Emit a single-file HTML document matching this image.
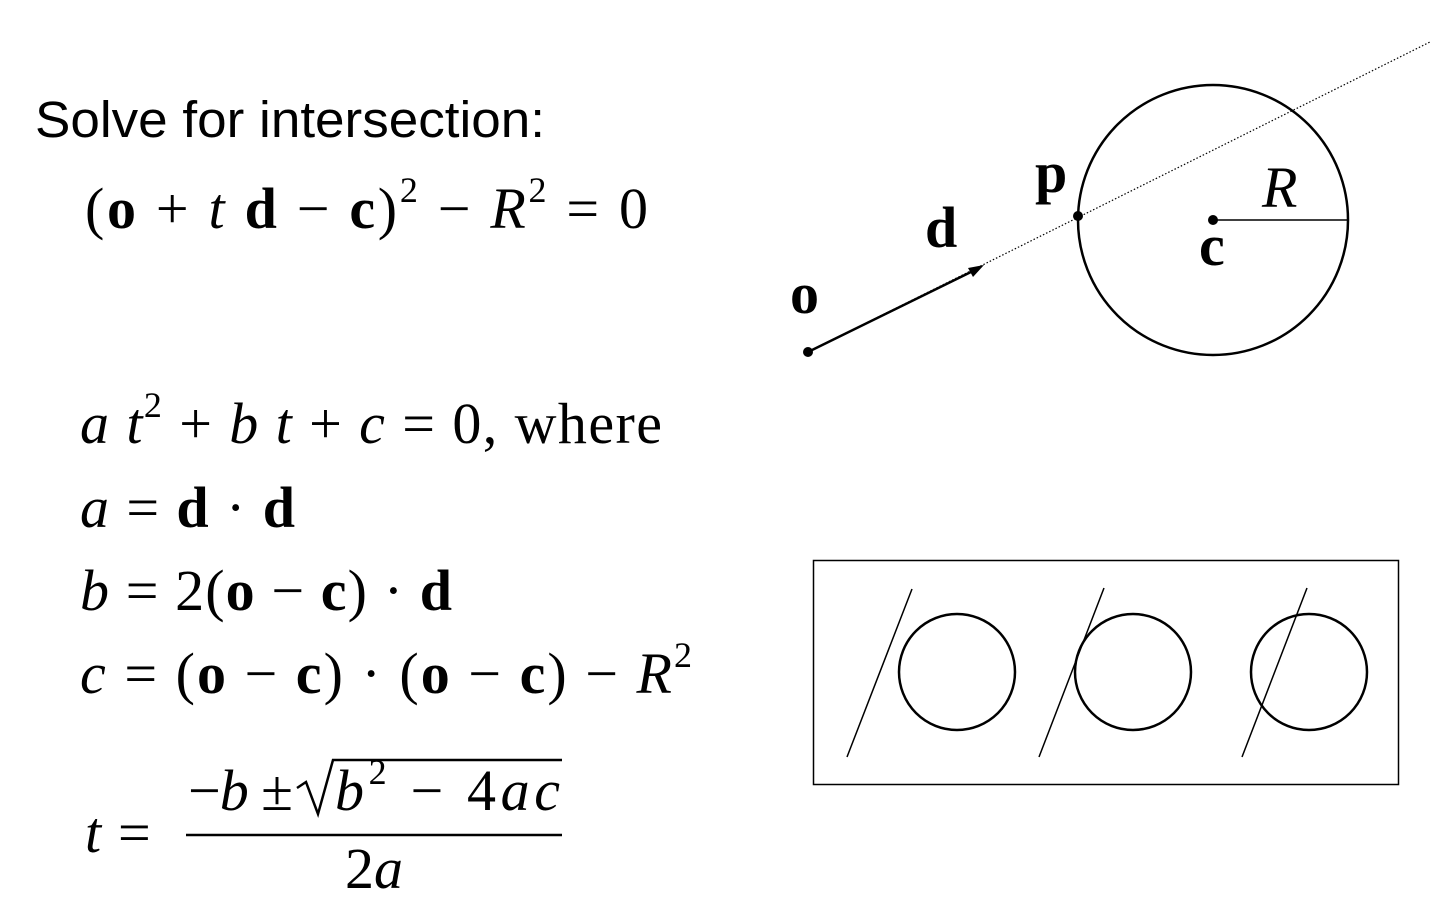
<!DOCTYPE html>
<html><head><meta charset="utf-8"><style>
html,body{margin:0;padding:0;background:#fff;}
svg{display:block}
.m{font-family:"Liberation Serif",serif;font-size:58px;fill:#000}
.b{font-weight:bold}
.i{font-style:italic}
</style></head><body>
<svg width="1430" height="908" viewBox="0 0 1430 908" xmlns="http://www.w3.org/2000/svg">
<text x="35" y="137" font-family="Liberation Sans,sans-serif" font-size="51" fill="#000" textLength="510" lengthAdjust="spacingAndGlyphs">Solve for intersection:</text>
<text class="m" x="85" y="228" textLength="563" lengthAdjust="spacing">(<tspan class="b">o</tspan> + <tspan class="i">t</tspan> <tspan class="b">d</tspan> − <tspan class="b">c</tspan>)<tspan font-size="36" dy="-26">2</tspan><tspan dy="26"> − </tspan><tspan class="i">R</tspan><tspan font-size="36" dy="-26">2</tspan><tspan dy="26"> = 0</tspan></text>
<text class="m" x="80" y="443" textLength="582" lengthAdjust="spacing"><tspan class="i">a t</tspan><tspan font-size="36" dy="-26">2</tspan><tspan dy="26"> + </tspan><tspan class="i">b t</tspan> + <tspan class="i">c</tspan> = 0,  where</text>
<text class="m" x="80" y="527" textLength="215" lengthAdjust="spacing"><tspan class="i">a</tspan> = <tspan class="b">d</tspan> · <tspan class="b">d</tspan></text>
<text class="m" x="80" y="610" textLength="372" lengthAdjust="spacing"><tspan class="i">b</tspan> = 2(<tspan class="b">o</tspan> − <tspan class="b">c</tspan>) · <tspan class="b">d</tspan></text>
<text class="m" x="80" y="693" textLength="612" lengthAdjust="spacing"><tspan class="i">c</tspan> = (<tspan class="b">o</tspan> − <tspan class="b">c</tspan>) · (<tspan class="b">o</tspan> − <tspan class="b">c</tspan>) − <tspan class="i">R</tspan><tspan font-size="36" dy="-26">2</tspan></text>
<text class="m i" x="85" y="852">t</text>
<text class="m" x="118" y="852">=</text>
<text class="m" x="188" y="810" textLength="105" lengthAdjust="spacing">−<tspan class="i">b</tspan> ±</text>
<path d="M297 788 L306 782 L318 814 L333 760 L562 760" fill="none" stroke="#000" stroke-width="2.5"/>
<text class="m" x="335" y="810" textLength="225" lengthAdjust="spacing"><tspan class="i">b</tspan><tspan font-size="36" dy="-26">2</tspan><tspan dy="26"> − 4</tspan><tspan class="i">ac</tspan></text>
<line x1="186" y1="835" x2="562" y2="835" stroke="#000" stroke-width="2.5"/>
<text class="m" x="345" y="888">2<tspan class="i">a</tspan></text>

<line x1="808" y1="352" x2="1430" y2="42" stroke="#000" stroke-width="1.2" stroke-dasharray="1.5,2"/>
<line x1="808" y1="352" x2="975" y2="270" stroke="#000" stroke-width="2.5"/>
<polygon points="984,265 968,268 973,277" fill="#000"/>
<circle cx="808" cy="352" r="5" fill="#000"/>
<circle cx="1213" cy="220" r="135" fill="none" stroke="#000" stroke-width="2.5"/>
<line x1="1213" y1="220" x2="1347" y2="220" stroke="#000" stroke-width="1.5"/>
<circle cx="1213" cy="220" r="5" fill="#000"/>
<circle cx="1078" cy="216" r="5" fill="#000"/>
<text class="m b" x="790" y="313">o</text>
<text class="m b" x="925" y="247">d</text>
<text class="m b" x="1035" y="192">p</text>
<text class="m b" x="1199" y="265">c</text>
<text class="m i" x="1262" y="207">R</text>

<rect x="813.5" y="560.5" width="585" height="224" fill="none" stroke="#000" stroke-width="1.5"/>
<circle cx="957" cy="672" r="58" fill="none" stroke="#000" stroke-width="2.5"/>
<circle cx="1133" cy="672" r="58" fill="none" stroke="#000" stroke-width="2.5"/>
<circle cx="1309" cy="672" r="58" fill="none" stroke="#000" stroke-width="2.5"/>
<line x1="847" y1="757" x2="912" y2="589" stroke="#000" stroke-width="1.5"/>
<line x1="1039" y1="757" x2="1104" y2="588" stroke="#000" stroke-width="1.5"/>
<line x1="1242" y1="757" x2="1307" y2="588" stroke="#000" stroke-width="1.5"/>
</svg>
</body></html>
